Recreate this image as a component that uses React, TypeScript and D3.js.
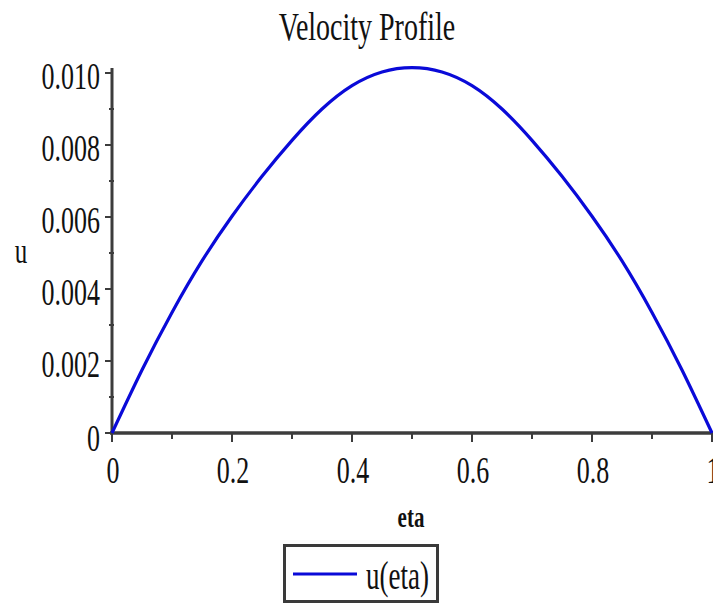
import React from "react";
import * as d3 from "d3";

// u(eta) sampled along eta
const etaValues = [0, 0.05, 0.1, 0.15, 0.2, 0.25, 0.3, 0.35, 0.4, 0.45, 0.5, 0.55, 0.6, 0.65, 0.7, 0.75, 0.8, 0.85, 0.9, 0.95, 1];
const uValues = [0, 0.00175, 0.00335, 0.00478, 0.00602, 0.00713, 0.00813, 0.009, 0.00965, 0.01003, 0.01015, 0.01003, 0.00965, 0.009, 0.00813, 0.00713, 0.00602, 0.00478, 0.00335, 0.00175, 0];

const xMajorTicks = [0, 0.2, 0.4, 0.6, 0.8, 1];
const xTickLabels = ["0", "0.2", "0.4", "0.6", "0.8", "1"];
const xMinorTicks = [0.1, 0.3, 0.5, 0.7, 0.9];
const yMajorTicks = [0, 0.002, 0.004, 0.006, 0.008, 0.01];
const yTickLabels = ["0", "0.002", "0.004", "0.006", "0.008", "0.010"];
const yMinorTicks = [0.001, 0.003, 0.005, 0.007, 0.009];

const W = 713;
const H = 605;
const FONT = "'Liberation Serif', 'Times New Roman', serif";
const STRETCH = 1.45;

const x = d3.scaleLinear().domain([0, 1]).range([112, 712]);
const y = d3.scaleLinear().domain([0, 0.01]).range([433, 73]);

const line = d3
  .line<number>()
  .x((_, i) => x(etaValues[i]))
  .y((d) => y(d))
  .curve(d3.curveNatural);

function Label({
  tx,
  ty,
  size,
  anchor = "start",
  weight = "normal",
  children,
}: {
  tx: number;
  ty: number;
  size: number;
  anchor?: string;
  weight?: string;
  children: React.ReactNode;
}) {
  return (
    <text
      transform={`translate(${tx},${ty}) scale(1,${STRETCH})`}
      fontFamily={FONT}
      fontSize={size}
      fontWeight={weight}
      textAnchor={anchor}
      fill="#111"
    >
      {children}
    </text>
  );
}

export default function App() {
  const axisColor = "#3c3c3c";
  return (
    <svg
      width={W}
      height={H}
      viewBox={`0 0 ${W} ${H}`}
      style={{ position: "absolute", left: 0, top: 0, background: "#fff" }}
    >
      {/* title */}
      <Label tx={367} ty={40} size={28} anchor="middle">
        Velocity Profile
      </Label>

      {/* y axis */}
      <line x1={x(0)} x2={x(0)} y1={68} y2={y(0) + 1} stroke={axisColor} strokeWidth={3} />
      {yMajorTicks.map((t) => (
        <line key={`ym${t}`} x1={x(0) - 7} x2={x(0)} y1={y(t)} y2={y(t)} stroke={axisColor} strokeWidth={2} />
      ))}
      {yMinorTicks.map((t) => (
        <line key={`yn${t}`} x1={x(0) - 3} x2={x(0) + 2} y1={y(t)} y2={y(t)} stroke={axisColor} strokeWidth={2} />
      ))}
      {yMajorTicks.map((t, i) => (
        <Label key={`yl${t}`} tx={100} ty={y(t) + (t === 0 ? 18 : 16)} size={26} anchor="end">
          {yTickLabels[i]}
        </Label>
      ))}

      {/* x axis */}
      <line x1={x(0) - 2} x2={x(1) + 2} y1={y(0)} y2={y(0)} stroke={axisColor} strokeWidth={3.5} />
      {xMajorTicks.map((t) => (
        <line key={`xm${t}`} x1={x(t)} x2={x(t)} y1={y(0)} y2={y(0) + 9} stroke={axisColor} strokeWidth={2} />
      ))}
      {xMinorTicks.map((t) => (
        <line key={`xn${t}`} x1={x(t)} x2={x(t)} y1={y(0)} y2={y(0) + 6} stroke={axisColor} strokeWidth={2} />
      ))}
      {xMajorTicks.map((t, i) => (
        <Label key={`xl${t}`} tx={x(t) + 1} ty={483} size={26} anchor="middle">
          {xTickLabels[i]}
        </Label>
      ))}

      {/* axis titles */}
      <Label tx={21} ty={263} size={25} anchor="middle">
        u
      </Label>
      <Label tx={411} ty={527} size={21} anchor="middle" weight="bold">
        eta
      </Label>

      {/* curve */}
      <path d={line(uValues) ?? ""} fill="none" stroke="#0a0ad8" strokeWidth={3.2} strokeLinejoin="round" />

      {/* legend */}
      <rect x={284.5} y={545.5} width={153} height={56} fill="#fff" stroke="#3a3a3a" strokeWidth={3} />
      <line x1={293} x2={357} y1={574} y2={574} stroke="#0a0ad8" strokeWidth={3.2} />
      <Label tx={366} ty={589} size={27}>
        u(eta)
      </Label>
    </svg>
  );
}
